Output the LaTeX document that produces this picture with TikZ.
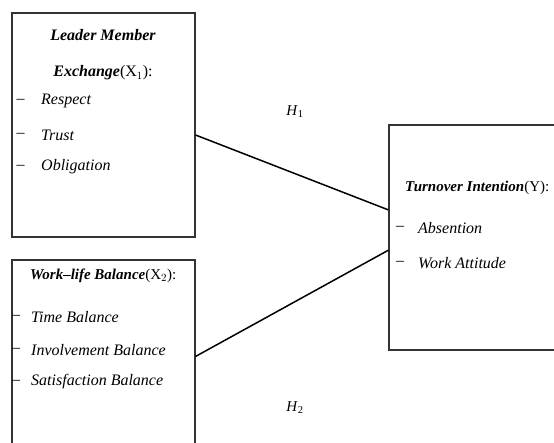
\documentclass[tikz,border=0pt]{standalone}
\usepackage{fontspec}
\setmainfont{Liberation Serif}
\usetikzlibrary{calc}
\tikzstyle{every picture}=[x=1pt, y=-1pt, font=\fontsize{16}{18}\selectfont]
\tikzstyle{varbox}=[draw=black!80, line width=1.1pt, inner sep=0pt]
\tikzstyle{item}=[anchor=west, inner sep=0pt]
\tikzstyle{head}=[font=\fontsize{15}{17}\selectfont]
\tikzstyle{link}=[line width=1.5pt]
\tikzstyle{hyp}=[font=\fontsize{15}{17}\selectfont]

\begin{document}
\begin{tikzpicture}
\useasboundingbox (0,0) rectangle (554,442);
% variable boxes
\node[varbox, minimum width=183pt, minimum height=224pt] (lmx) at (103.5,125) {};
\node[varbox, minimum width=183pt, minimum height=200pt] (wlb) at (103.5,360) {};
\node[varbox, minimum width=180pt, minimum height=225pt] (ti) at (479,237.5) {};
% leader member exchange
\node (lmxa) at (103,35) {\textbf{\textit{Leader Member}}};
\node (lmxb) at (103,73) {\textbf{\textit{Exchange}}(X$_1$):};
\foreach \y/\t [count=\i] in {101/Respect,135/Trust,167/Obligation}{
	\node[item] at (16.5,\y) {--};
	\node[item] (lmx\i) at (41,\y) {\textit{\t}};
}
% work-life balance
\node[item, head] (wlba) at (30,276) {\textbf{\textit{Work--life Balance}}(X$_2$):};
\foreach \y/\t [count=\i] in {317/Time Balance,350/Involvement Balance,382/Satisfaction Balance}{
	\node[item] at (12,\y) {--};
	\node[item] (wlb\i) at (31,\y) {\textit{\t}};
}
% turnover intention
\node[item, head] (tia) at (405,188) {\textbf{\textit{Turnover Intention}}(Y):};
\foreach \y/\t [count=\i] in {228/Absention,263/Work Attitude}{
	\node[item] at (396,\y) {--};
	\node[item] (ti\i) at (418,\y) {\textit{\t}};
}
% hypotheses
\path (lmx.east |- lmx2) coordinate (h1s);
\path ($(ti.north west)!0.378!(ti.south west)$) coordinate (h1e);
\path (wlb.north east) ++(0,97) coordinate (h2s);
\path ($(ti.north west)!0.556!(ti.south west)$) coordinate (h2e);
\draw[link] (h1s) -- (h1e);
\draw[link] (h2s) -- (h2e);
\node[hyp] (h1) at (295,112) {\textit{H}\textsubscript{1}};
\node[hyp] (h2) at (295,408) {\textit{H}\textsubscript{2}};
\end{tikzpicture}
\end{document}
